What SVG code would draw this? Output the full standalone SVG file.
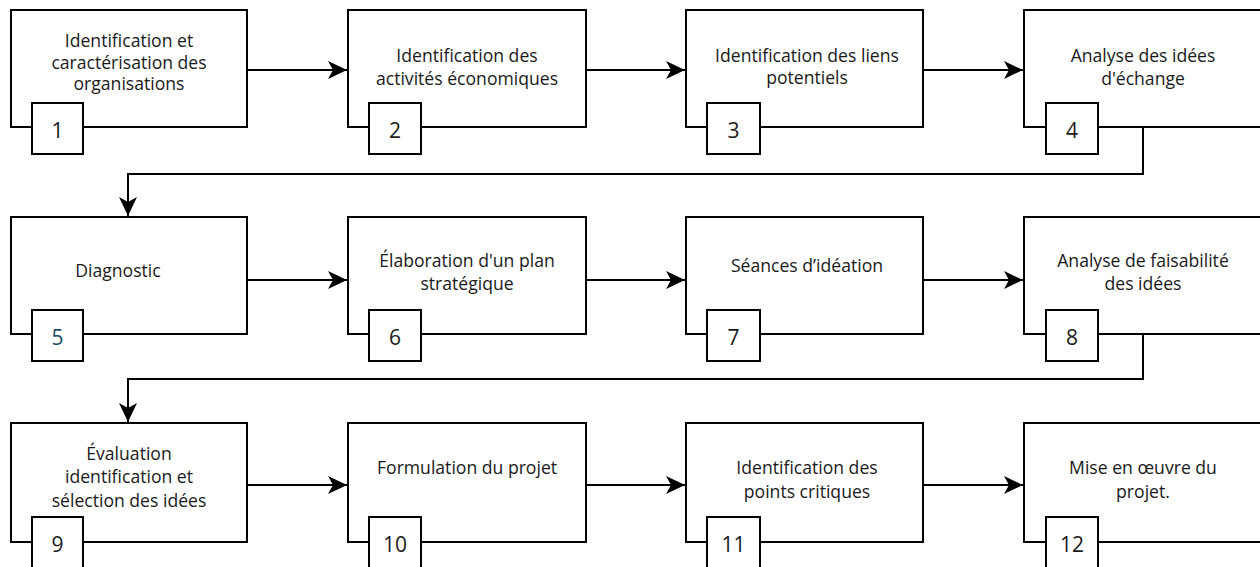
<svg xmlns="http://www.w3.org/2000/svg" width="1260" height="567" viewBox="0 0 1260 567">
<defs>
<style>
.box{fill:#fff;stroke:#000;stroke-width:2}
.num{fill:#fff;stroke:#000;stroke-width:2}
.t{font-family:"Open Sans","Noto Sans",sans-serif;font-size:17.6px;fill:#1a1a1a;text-anchor:middle}
.n{font-family:"Open Sans","Noto Sans",sans-serif;font-size:21px;fill:#1a1a1a;text-anchor:middle}
.c{fill:none;stroke:#000;stroke-width:2}
</style>
<marker id="arr" viewBox="0 0 20 20" refX="19" refY="10" markerWidth="20" markerHeight="20" markerUnits="userSpaceOnUse" orient="auto">
<path d="M0,1 L19,10 L0,19 L5,10 Z" fill="#000"/>
</marker>
</defs>
<rect width="1260" height="567" fill="#fff"/>

<g id="connectors">
<path class="c" d="M247,70 H347" marker-end="url(#arr)"/>
<path class="c" d="M586,70 H685" marker-end="url(#arr)"/>
<path class="c" d="M923,70 H1023" marker-end="url(#arr)"/>
<path class="c" d="M1143,127 V174 H128 V216" marker-end="url(#arr)"/>
<path class="c" d="M247,280 H347" marker-end="url(#arr)"/>
<path class="c" d="M586,280 H685" marker-end="url(#arr)"/>
<path class="c" d="M923,280 H1023" marker-end="url(#arr)"/>
<path class="c" d="M1143,334 V379 H128 V422" marker-end="url(#arr)"/>
<path class="c" d="M247,485 H347" marker-end="url(#arr)"/>
<path class="c" d="M586,485 H685" marker-end="url(#arr)"/>
<path class="c" d="M923,485 H1023" marker-end="url(#arr)"/>
</g>

<g id="node1">
<rect class="box" x="11" y="10" width="236" height="117"/>
<text class="t" x="129" y="47">Identification et</text>
<text class="t" x="129" y="68.5">caractérisation des</text>
<text class="t" x="129" y="90">organisations</text>
<rect class="num" x="32" y="103" width="51" height="51"/>
<text class="n" x="57.5" y="138">1</text>
</g>

<g id="node2">
<rect class="box" x="348" y="10" width="238" height="117"/>
<text class="t" x="467" y="62">Identification des</text>
<text class="t" x="467" y="85">activités économiques</text>
<rect class="num" x="369" y="103" width="52" height="51"/>
<text class="n" x="395" y="138">2</text>
</g>

<g id="node3">
<rect class="box" x="686" y="10" width="237" height="117"/>
<text class="t" x="807" y="62">Identification des liens</text>
<text class="t" x="807" y="84">potentiels</text>
<rect class="num" x="707" y="103" width="53" height="51"/>
<text class="n" x="733.5" y="138">3</text>
</g>

<g id="node4">
<rect class="box" x="1024" y="10" width="240" height="117"/>
<text class="t" x="1143" y="62">Analyse des idées</text>
<text class="t" x="1143" y="85">d'échange</text>
<rect class="num" x="1046" y="103" width="52" height="51"/>
<text class="n" x="1072" y="138">4</text>
</g>

<g id="node5">
<rect class="box" x="11" y="217" width="236" height="117"/>
<text class="t" x="118" y="277">Diagnostic</text>
<rect class="num" x="32" y="310" width="51" height="51"/>
<text class="n" x="57.5" y="345" style="fill:#1f4d63">5</text>
</g>

<g id="node6">
<rect class="box" x="348" y="217" width="238" height="117"/>
<text class="t" x="467" y="267">Élaboration d'un plan</text>
<text class="t" x="467" y="290">stratégique</text>
<rect class="num" x="369" y="310" width="52" height="51"/>
<text class="n" x="395" y="345">6</text>
</g>

<g id="node7">
<rect class="box" x="686" y="217" width="237" height="117"/>
<text class="t" x="807" y="272">Séances d’idéation</text>
<rect class="num" x="707" y="310" width="53" height="51"/>
<text class="n" x="733.5" y="345">7</text>
</g>

<g id="node8">
<rect class="box" x="1024" y="217" width="240" height="117"/>
<text class="t" x="1143" y="267">Analyse de faisabilité</text>
<text class="t" x="1143" y="290">des idées</text>
<rect class="num" x="1046" y="310" width="52" height="51"/>
<text class="n" x="1072" y="345">8</text>
</g>

<g id="node9">
<rect class="box" x="11" y="423" width="236" height="119"/>
<text class="t" x="129" y="460">Évaluation</text>
<text class="t" x="129" y="483">identification et</text>
<text class="t" x="129" y="507">sélection des idées</text>
<rect class="num" x="32" y="517" width="51" height="60"/>
<text class="n" x="57.5" y="552">9</text>
</g>

<g id="node10">
<rect class="box" x="348" y="423" width="238" height="119"/>
<text class="t" x="467" y="474">Formulation du projet</text>
<rect class="num" x="369" y="517" width="52" height="60"/>
<text class="n" x="395" y="552">10</text>
</g>

<g id="node11">
<rect class="box" x="686" y="423" width="237" height="119"/>
<text class="t" x="807" y="474">Identification des</text>
<text class="t" x="807" y="498">points critiques</text>
<rect class="num" x="707" y="517" width="53" height="60"/>
<text class="n" x="733.5" y="552">11</text>
</g>

<g id="node12">
<rect class="box" x="1024" y="423" width="240" height="119"/>
<text class="t" x="1143" y="474">Mise en œuvre du</text>
<text class="t" x="1143" y="498">projet.</text>
<rect class="num" x="1046" y="517" width="52" height="60"/>
<text class="n" x="1072" y="552">12</text>
</g>
</svg>
